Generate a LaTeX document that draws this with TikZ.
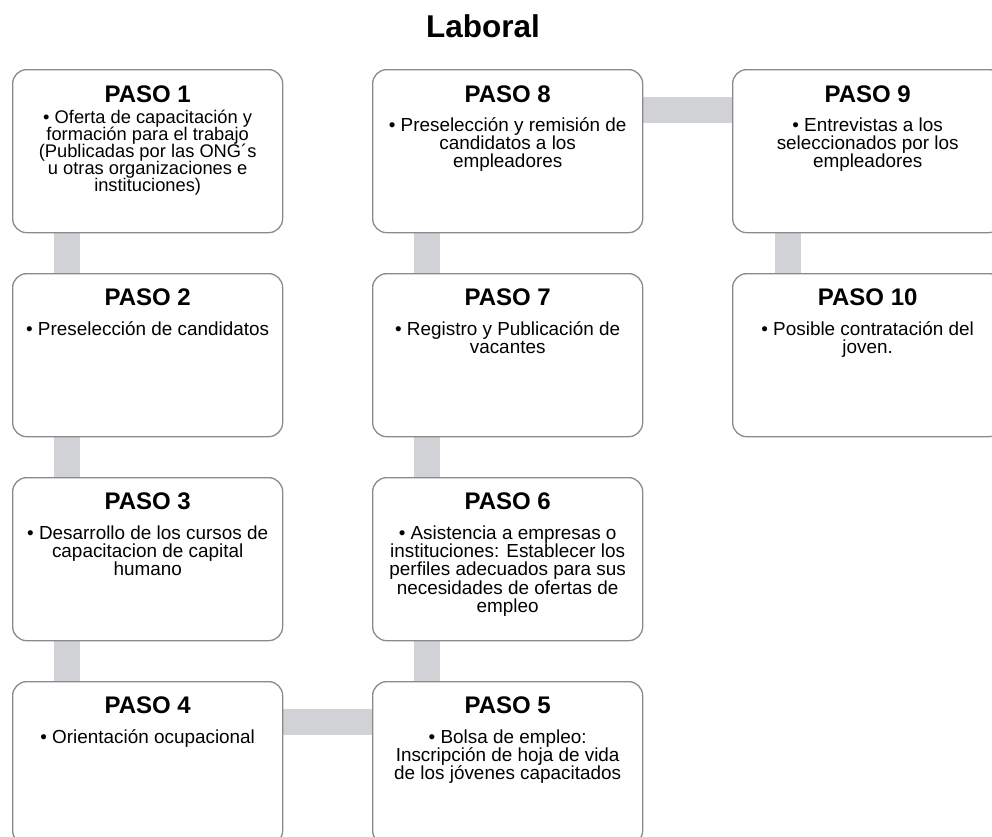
\documentclass[tikz,border=0pt]{standalone}
\usepackage{fontspec}
\setmainfont{Liberation Sans}
\pgfdeclarelayer{background}
\pgfsetlayers{background,main}
\definecolor{boxline}{HTML}{8A8A8A}
\definecolor{connfill}{HTML}{D1D2D5}
\newcommand{\bodytxt}[3]{\parbox[t]{268pt}{\centering\fontsize{#1}{#2}\selectfont\lineskiplimit=-100pt #3}}
\begin{document}
\begin{tikzpicture}[x=1pt,y=1pt,
  stepbox/.style={draw=boxline, line width=1.3pt, fill=white, rounded corners=14pt,
    minimum width=270pt, minimum height=163pt, inner sep=0pt, anchor=north west},
  head/.style={anchor=base, inner sep=0pt, font=\fontsize{24pt}{28pt}\selectfont\bfseries},
  body/.style={anchor=base, inner sep=0pt},
  conn/.style={draw=connfill, line width=25.5pt}]
\useasboundingbox (0,0) rectangle (992,-836);
\clip (0,0) rectangle (992,-836);

\node[anchor=base, inner sep=0pt, font=\fontsize{31.5pt}{36pt}\selectfont\bfseries] (title) at (483,-37) {Laboral};

% boxes
\node[stepbox] (b1) at (12,-69) {};
\node[stepbox] (b2) at (12,-273) {};
\node[stepbox] (b3) at (12,-477) {};
\node[stepbox] (b4) at (12,-681) {};
\node[stepbox] (b5) at (372,-681) {};
\node[stepbox] (b6) at (372,-477) {};
\node[stepbox] (b7) at (372,-273) {};
\node[stepbox] (b8) at (372,-69) {};
\node[stepbox] (b9) at (732,-69) {};
\node[stepbox] (b10) at (732,-273) {};

% connectors
\begin{pgfonlayer}{background}
\draw[conn] ([xshift=55pt]b1.south west) -- ([xshift=55pt]b2.north west);
\draw[conn] ([xshift=55pt]b2.south west) -- ([xshift=55pt]b3.north west);
\draw[conn] ([xshift=55pt]b3.south west) -- ([xshift=55pt]b4.north west);
\draw[conn] ([yshift=-41pt]b4.north east) -- ([yshift=-41pt]b5.north west);
\draw[conn] ([xshift=55pt]b5.north west) -- ([xshift=55pt]b6.south west);
\draw[conn] ([xshift=55pt]b6.north west) -- ([xshift=55pt]b7.south west);
\draw[conn] ([xshift=55pt]b7.north west) -- ([xshift=55pt]b8.south west);
\draw[conn] ([yshift=-41pt]b8.north east) -- ([yshift=-41pt]b9.north west);
\draw[conn] ([xshift=56pt]b9.south west) -- ([xshift=56pt]b10.north west);
\end{pgfonlayer}

% headings
\node[head] (h1) at ([yshift=-33pt]b1.north) {PASO 1};
\node[head] (h2) at ([yshift=-32pt]b2.north) {PASO 2};
\node[head] (h3) at ([yshift=-32pt]b3.north) {PASO 3};
\node[head] (h4) at ([yshift=-32pt]b4.north) {PASO 4};
\node[head] (h5) at ([yshift=-32pt]b5.north) {PASO 5};
\node[head] (h6) at ([yshift=-32pt]b6.north) {PASO 6};
\node[head] (h7) at ([yshift=-32pt]b7.north) {PASO 7};
\node[head] (h8) at ([yshift=-33pt]b8.north) {PASO 8};
\node[head] (h9) at ([yshift=-33pt]b9.north) {PASO 9};
\node[head] (h10) at ([yshift=-32pt]b10.north) {PASO 10};

% bodies
\node[body] (t1) at ([yshift=-54pt]b1.north) {\bodytxt{18.3pt}{17.2pt}{• Oferta de capacitación y\\formación para el trabajo\\(Publicadas por las ONG´s\\u otras organizaciones e\\instituciones)}};
\node[body] (t2) at ([yshift=-62pt]b2.north) {\bodytxt{18.9pt}{18.4pt}{• Preselección de candidatos}};
\node[body] (t3) at ([yshift=-62pt]b3.north) {\bodytxt{18.9pt}{18.4pt}{• Desarrollo de los cursos de\\capacitacion de capital\\humano}};
\node[body] (t4) at ([yshift=-62pt]b4.north) {\bodytxt{18.9pt}{18.4pt}{• Orientación ocupacional}};
\node[body] (t5) at ([yshift=-62pt]b5.north) {\bodytxt{18.9pt}{18.4pt}{• Bolsa de empleo:\\Inscripción de hoja de vida\\de los jóvenes capacitados}};
\node[body] (t6) at ([yshift=-62pt]b6.north) {\bodytxt{18.9pt}{18.4pt}{• Asistencia a empresas o\\instituciones: Establecer los\\perfiles adecuados para sus\\necesidades de ofertas de\\empleo}};
\node[body] (t7) at ([yshift=-62pt]b7.north) {\bodytxt{18.9pt}{18.4pt}{• Registro y Publicación de\\vacantes}};
\node[body] (t8) at ([yshift=-62pt]b8.north) {\bodytxt{18.9pt}{18.4pt}{• Preselección y remisión de\\candidatos a los\\empleadores}};
\node[body] (t9) at ([yshift=-62pt]b9.north) {\bodytxt{18.9pt}{18.4pt}{• Entrevistas a los\\seleccionados por los\\empleadores}};
\node[body] (t10) at ([yshift=-62pt]b10.north) {\bodytxt{18.9pt}{18.4pt}{• Posible contratación del\\joven.}};
\end{tikzpicture}
\end{document}
